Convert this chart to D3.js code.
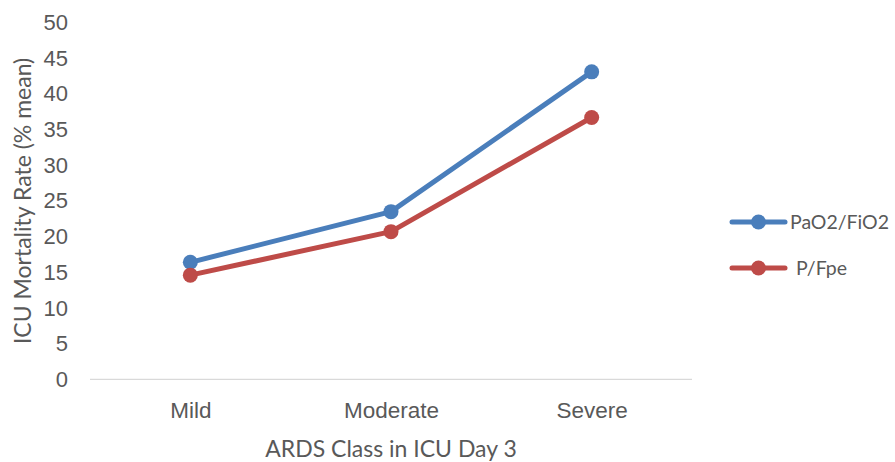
<!DOCTYPE html>
<html>
<head>
<meta charset="utf-8">
<script src="https://cdn.jsdelivr.net/npm/d3@7"></script>
<style>
  html, body { margin: 0; padding: 0; background: #fff; }
  svg { display: block; font-family: Lato, "Open Sans", sans-serif; }
</style>
</head>
<body>
<svg id="chart" width="895" height="462"></svg>
<script>
// ICU mortality by ARDS class on day 3, two oxygenation indices
const categories = ["Mild", "Moderate", "Severe"];
const seriesNames = ["PaO2/FiO2", "P/Fpe"];
const pao2Fio2 = [16.4, 23.5, 43.1];
const pFpe = [14.6, 20.7, 36.7];
const yTicks = [0, 5, 10, 15, 20, 25, 30, 35, 40, 45, 50];
const colors = ["#4a7ebb", "#be4b48"];

const series = [
  { name: seriesNames[0], values: pao2Fio2, color: colors[0] },
  { name: seriesNames[1], values: pFpe, color: colors[1] }
];

const svg = d3.select("#chart");
const plot = { left: 90, right: 692, top: 22.6, bottom: 379.3 };
const textColor = "#595959";

const x = d3.scalePoint().domain(categories).range([plot.left, plot.right]).padding(0.5);
const y = d3.scaleLinear().domain([0, 50]).range([plot.bottom, plot.top]);

// Y axis: labels only, no line
const yAxis = svg.append("g")
  .attr("transform", `translate(${plot.left},0)`)
  .call(d3.axisLeft(y).tickValues(yTicks).tickSize(0).tickPadding(22));
yAxis.select(".domain").remove();
yAxis.selectAll("text").attr("fill", textColor).style("font-size", "22px");

// X axis: baseline plus category labels
const xAxis = svg.append("g")
  .attr("transform", `translate(0,${plot.bottom})`)
  .call(d3.axisBottom(x).tickSize(0).tickPadding(23));
xAxis.select(".domain").attr("stroke", "#d9d9d9").attr("stroke-width", 1.3)
  .attr("d", `M${plot.left},0H${plot.right}`);
xAxis.selectAll("text").attr("fill", textColor).style("font-size", "22.5px");

// Axis titles
svg.append("text")
  .attr("transform", `translate(31,${(plot.top + plot.bottom) / 2}) rotate(-90)`)
  .attr("text-anchor", "middle")
  .attr("fill", textColor)
  .style("font-size", "23px")
  .text("ICU Mortality Rate (% mean)");

svg.append("text")
  .attr("x", 391).attr("y", 457)
  .attr("text-anchor", "middle")
  .attr("fill", textColor)
  .style("font-size", "23px")
  .text("ARDS Class in ICU Day 3");

// Lines and markers
const line = d3.line().x((d, i) => x(categories[i])).y(d => y(d));
series.forEach(s => {
  svg.append("path")
    .datum(s.values)
    .attr("d", line)
    .attr("fill", "none")
    .attr("stroke", s.color)
    .attr("stroke-width", 5)
    .attr("stroke-linejoin", "round")
    .attr("stroke-linecap", "round");
  svg.selectAll(null)
    .data(s.values)
    .enter().append("circle")
    .attr("cx", (d, i) => x(categories[i]))
    .attr("cy", d => y(d))
    .attr("r", 7.5)
    .attr("fill", s.color);
});

// Legend
const legend = svg.append("g");
const legendY = [222, 268];
series.forEach((s, i) => {
  const g = legend.append("g").attr("transform", `translate(0,${legendY[i]})`);
  g.append("line").attr("x1", 732).attr("x2", 785).attr("y1", 0).attr("y2", 0)
    .attr("stroke", s.color).attr("stroke-width", 5).attr("stroke-linecap", "round");
  g.append("circle").attr("cx", 758.5).attr("cy", 0).attr("r", 7.5).attr("fill", s.color);
  g.append("text").attr("x", i === 0 ? 790 : 796).attr("y", 0).attr("dy", "0.35em")
    .attr("fill", textColor).style("font-size", "19.5px").text(s.name);
});
</script>
</body>
</html>
